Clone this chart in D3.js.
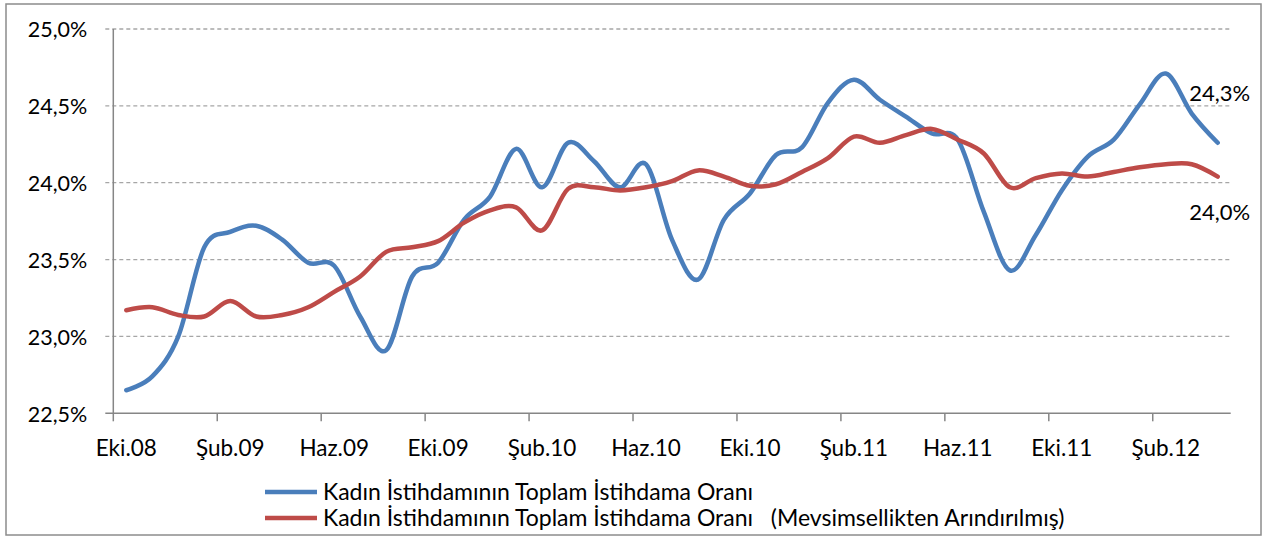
<!DOCTYPE html>
<html>
<head>
<meta charset="utf-8">
<script src="https://cdn.jsdelivr.net/npm/d3@7"></script>
<style>
body { margin:0; background:#fff; }
text { font-family: Lato, "Open Sans", sans-serif; fill:#000; }
.grid { stroke:#a6a6a6; stroke-width:1.3; stroke-dasharray:4,3; }
.axisline { stroke:#868686; stroke-width:1.5; fill:none; }
</style>
</head>
<body>
<script>
var months=["Oca","Şub","Mar","Nis","May","Haz","Tem","Ağu","Eyl","Eki","Kas","Ara"];
// Eki.08 .. Nis.12
var categories=[];
for (var yr=8,m=9; categories.length<43; m++) {
	if (m==12) { m=0; yr++; }
	categories.push(months[m]+"."+(yr<10 ? "0"+yr : ""+yr));
}
var blueValues=[22.65,22.74,23.00,23.58,23.68,23.72,23.63,23.48,23.46,23.13,22.91,
	23.39,23.48,23.76,23.91,24.22,23.97,24.26,24.14,23.97,24.12,23.63,23.37,
	23.76,23.93,24.18,24.23,24.52,24.67,24.54,24.43,24.32,24.28,23.81,23.43,
	23.66,23.95,24.17,24.28,24.51,24.71,24.45,24.26];
var redValues=[23.17,23.19,23.14,23.13,23.23,23.13,23.14,23.19,23.29,23.39,23.55,
	23.58,23.62,23.74,23.82,23.84,23.69,23.96,23.97,23.95,23.97,24.01,24.08,
	24.04,23.98,23.99,24.07,24.16,24.30,24.26,24.31,24.35,24.28,24.19,23.97,
	24.03,24.06,24.04,24.07,24.10,24.12,24.12,24.04];
var yTicks=[22.5,23.0,23.5,24.0,24.5,25.0];
var seriesNames=["Kadın İstihdamının Toplam İstihdama Oranı",
	"Kadın İstihdamının Toplam İstihdama Oranı   (Mevsimsellikten Arındırılmış)"];
var seriesColors=["#4a7ebb","#be4b48"];
var lastLabels=["24,3%","24,0%"];

var width=1266, height=536;
var plotLeft=113.3, plotRight=1230.7, plotTop=29, plotBottom=413.3;

var svg=d3.select("body").append("svg").attr("width",width).attr("height",height);

svg.append("rect").attr("x",6).attr("y",4).attr("width",1255).attr("height",531).
	attr("fill","#fff").attr("stroke","#8c8c8c").attr("stroke-width",1.5);

var x=d3.scaleBand().domain(categories).range([plotLeft,plotRight]).padding(0);
var y=d3.scaleLinear().domain([22.5,25]).range([plotBottom,plotTop]);

function fmt(d) {
	return d.toFixed(1).replace(".",",")+"%";
}

// gridlines
svg.selectAll(".grid").data(yTicks.slice(1)).enter().
	append("line").classed("grid",true).
	attr("x1",plotLeft-8).attr("x2",plotRight).
	attr("y1",function(d) {return y(d)}).attr("y2",function(d) {return y(d)});

// y axis
var yAxis=svg.append("g").attr("transform","translate("+plotLeft+",0)").
	call(d3.axisLeft(y).tickValues(yTicks).tickFormat(fmt).tickSize(0).tickPadding(26));
yAxis.select(".domain").remove();
yAxis.selectAll("text").style("font-size","21.5px").attr("dy","0.36em");
svg.append("line").classed("axisline",true).
	attr("x1",plotLeft).attr("x2",plotLeft).attr("y1",plotTop).attr("y2",plotBottom);

// x axis
var shown=categories.filter(function(d,i) {return i%4==0});
svg.append("line").classed("axisline",true).
	attr("x1",plotLeft-8).attr("x2",plotRight).attr("y1",plotBottom).attr("y2",plotBottom);
svg.selectAll(".xtick").data(shown).enter().
	append("line").classed("axisline",true).
	attr("x1",function(d) {return x(d)}).attr("x2",function(d) {return x(d)}).
	attr("y1",plotBottom).attr("y2",plotBottom+8);
svg.selectAll(".xlabel").data(shown).enter().
	append("text").attr("text-anchor","middle").style("font-size","22.5px").
	attr("x",function(d) {return x(d)+x.bandwidth()/2}).
	attr("y",456).
	text(function(d) {return d});

// lines
var line=d3.line().
	x(function(d,i) {return x(categories[i])+x.bandwidth()/2}).
	y(function(d) {return y(d)}).
	curve(d3.curveCardinal.tension(0));

[blueValues,redValues].forEach(function(vals,k) {
	svg.append("path").datum(vals).attr("d",line).
		attr("fill","none").attr("stroke",seriesColors[k]).
		attr("stroke-width",4.5).attr("stroke-linejoin","round").attr("stroke-linecap","round");
});

// labels at the last point
var lastX=x(categories[42])+x.bandwidth()/2;
svg.append("text").attr("text-anchor","middle").style("font-size","22px").
	attr("x",lastX+2).attr("y",y(blueValues[42])-42).text(lastLabels[0]);
svg.append("text").attr("text-anchor","middle").style("font-size","22px").
	attr("x",lastX+2).attr("y",y(redValues[42])+43).text(lastLabels[1]);

// legend
seriesNames.forEach(function(name,k) {
	var ly=492+k*26;
	svg.append("line").attr("x1",265).attr("x2",317).attr("y1",ly).attr("y2",ly).
		attr("stroke",seriesColors[k]).attr("stroke-width",4.5);
	svg.append("text").attr("x",323).attr("y",ly+8).
		style("font-size","23px").style("white-space","pre").text(name);
});
</script>
</body>
</html>
